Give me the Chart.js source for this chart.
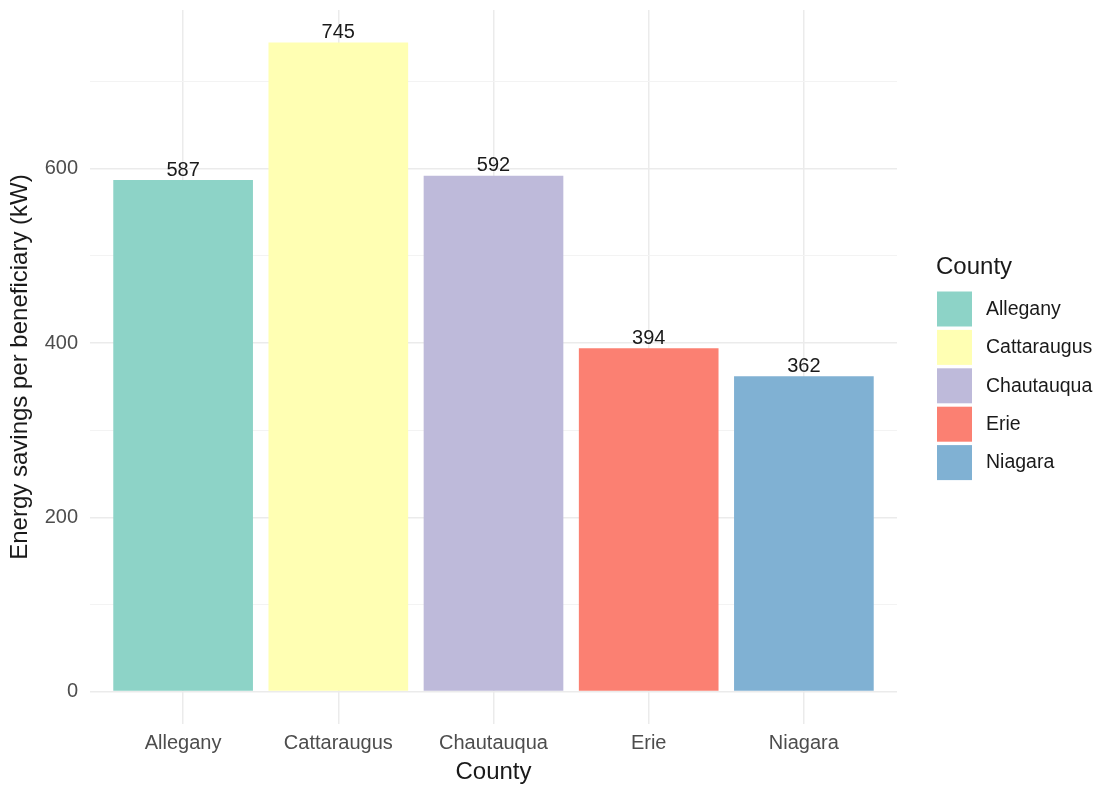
<!DOCTYPE html>
<html>
<head>
<meta charset="utf-8">
<title>Energy savings per beneficiary by county</title>
<script src="https://cdn.jsdelivr.net/npm/chart.js@4"></script>
<style>
  html, body { margin: 0; padding: 0; background: #ffffff; }
  #wrap { position: relative; width: 1102px; height: 788px; }
</style>
</head>
<body>
<div id="wrap"><canvas id="chart" width="1102" height="788"></canvas></div>
<script>
// County bars, Set3 palette
const COUNTIES = ['Allegany', 'Cattaraugus', 'Chautauqua', 'Erie', 'Niagara'];
const SAVINGS = [587, 745, 592, 394, 362];
const COLORS = ['#8DD3C7', '#FFFFB3', '#BEBADA', '#FB8072', '#80B1D3'];
const Y_TICKS = [0, 100, 200, 300, 400, 500, 600, 700];
const Y_LABELS = [0, 200, 400, 600];

const FONT = "'Liberation Sans', Arial, sans-serif";

// ggplot-style expansion: 5% on y, 0.6 units on discrete x
const yMax = Math.max(...SAVINGS);
const yMin = -0.05 * yMax;
const yTop = yMax * 1.05;

const valueLabels = {
  id: 'valueLabels',
  afterDatasetsDraw(chart) {
    const ctx = chart.ctx;
    const meta = chart.getDatasetMeta(0);
    ctx.save();
    ctx.font = '20px ' + FONT;
    ctx.fillStyle = '#1a1a1a';
    ctx.textAlign = 'center';
    ctx.textBaseline = 'alphabetic';
    meta.data.forEach((bar, i) => {
      ctx.fillText(String(SAVINGS[i]), bar.x, bar.y - 4.5);
    });
    ctx.restore();
  }
};

// legend on the right, drawn like a ggplot guide
const sideLegend = {
  id: 'sideLegend',
  afterDraw(chart) {
    const ctx = chart.ctx;
    const x0 = 936;
    ctx.save();
    ctx.fillStyle = '#1a1a1a';
    ctx.font = '24px ' + FONT;
    ctx.textAlign = 'left';
    ctx.textBaseline = 'middle';
    ctx.fillText('County', x0, 267);
    ctx.font = '19.5px ' + FONT;
    COUNTIES.forEach((name, i) => {
      const top = 291.5 + i * 38.4;
      ctx.fillStyle = COLORS[i];
      ctx.fillRect(x0 + 1, top, 35, 35);
      ctx.fillStyle = '#1a1a1a';
      ctx.fillText(name, 986, top + 18);
    });
    ctx.restore();
  }
};

new Chart(document.getElementById('chart'), {
  type: 'bar',
  data: {
    datasets: [{
      data: COUNTIES.map((c, i) => ({ x: i + 1, y: SAVINGS[i] })),
      backgroundColor: COLORS,
      borderWidth: 0,
      barPercentage: 0.9,
      categoryPercentage: 1.0,
    }],
  },
  options: {
    responsive: false,
    animation: false,
    layout: { padding: { top: 10, right: 205, left: 0, bottom: 0 } },
    plugins: {
      legend: { display: false },
      tooltip: { enabled: false },
    },
    scales: {
      x: {
        type: 'linear',
        offset: false,
        min: 0.4,
        max: COUNTIES.length + 0.6,
        afterBuildTicks: scale => {
          scale.ticks = COUNTIES.map((c, i) => ({ value: i + 1 }));
        },
        afterFit: scale => {
          scale.height = 64;
          scale.paddingLeft = 0;
          scale.paddingRight = 0;
        },
        border: { display: false },
        grid: { color: '#ebebeb', lineWidth: 1.5, drawTicks: false, offset: false },
        ticks: {
          autoSkip: false,
          maxRotation: 0,
          padding: 7,
          color: '#4d4d4d',
          font: { family: FONT, size: 20 },
          callback: v => COUNTIES[v - 1] || '',
        },
        title: {
          display: true,
          text: 'County',
          color: '#1a1a1a',
          font: { family: FONT, size: 24 },
          padding: { top: 4, bottom: 1 },
        },
      },
      y: {
        min: yMin,
        max: yTop,
        afterBuildTicks: scale => {
          scale.ticks = Y_TICKS.map(v => ({ value: v }));
        },
        afterFit: scale => {
          scale.width = 90;
          scale.paddingTop = 0;
          scale.paddingBottom = 0;
        },
        border: { display: false },
        grid: {
          drawTicks: false,
          color: ctx => Y_LABELS.includes(ctx.tick.value) ? '#ebebeb' : '#f3f3f3',
          lineWidth: ctx => Y_LABELS.includes(ctx.tick.value) ? 1.5 : 1,
        },
        ticks: {
          padding: 12,
          color: '#4d4d4d',
          font: { family: FONT, size: 20 },
          callback: v => Y_LABELS.includes(v) ? String(v) : '',
        },
        title: {
          display: true,
          text: 'Energy savings per beneficiary (kW)',
          color: '#1a1a1a',
          font: { family: FONT, size: 24 },
          padding: { top: 6, bottom: 0 },
        },
      },
    },
  },
  plugins: [valueLabels, sideLegend],
});
</script>
</body>
</html>
